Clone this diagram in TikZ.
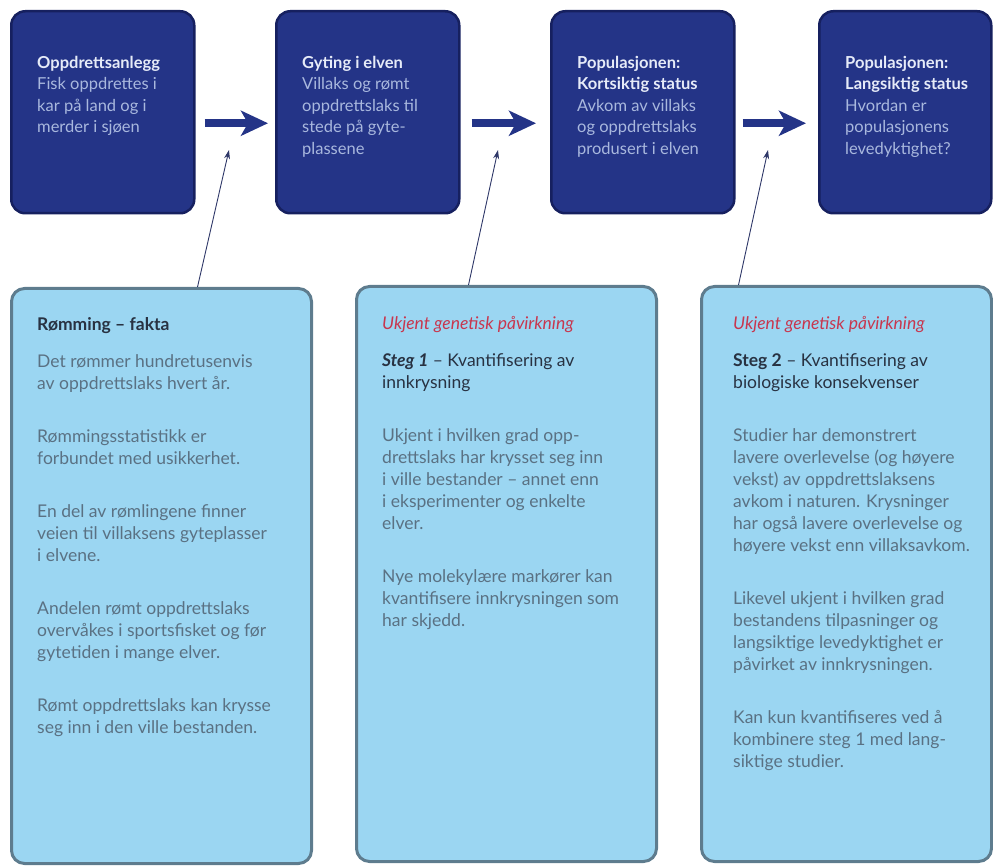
\documentclass[tikz,border=0pt]{standalone}
\usepackage{fontspec}
\setmainfont{Lato}
\usetikzlibrary{arrows.meta,positioning}
\definecolor{navybox}{HTML}{243487}
\definecolor{navyedge}{HTML}{16205F}
\definecolor{navytitle}{HTML}{E6EBF8}
\definecolor{navytext}{HTML}{A9B8DE}
\definecolor{skyfill}{HTML}{9BD6F2}
\definecolor{skyedge}{HTML}{5E7C8E}
\definecolor{skytitle}{HTML}{283242}
\definecolor{skytext}{HTML}{5A7183}
\definecolor{unkred}{HTML}{C8364E}
\definecolor{pointer}{HTML}{2E3768}
\begin{document}
\begin{tikzpicture}[x=1pt,y=1pt,
    topbox/.style={draw=navyedge,line width=2.5pt,fill=navybox,rounded corners=14pt,
      anchor=north west,inner sep=0pt,minimum height=202pt},
    botbox/.style={draw=skyedge,line width=3pt,fill=skyfill,rounded corners=13pt,
      anchor=north west,inner sep=0pt,minimum height=575pt},
    toptext/.style={anchor=north west,inner sep=0pt,align=left,text=navytext,
      font=\fontsize{16.5}{21.5}\selectfont},
    bottext/.style={anchor=north west,inner sep=0pt,align=left,text=skytext,
      font=\fontsize{17.5}{22}\selectfont},
    flowarrow/.style={draw=navybox,line width=8pt,
      -{Stealth[width=25pt,length=27pt,inset=7pt]}},
    pointarrow/.style={draw=pointer,line width=0.9pt,-{Stealth[width=6pt,length=9pt]}}]
  \useasboundingbox (0,0) rectangle (993,-866);

  \node[topbox,minimum width=183pt] (anlegg) at (10,-10) {};
  \node[topbox,minimum width=183pt] (gyting) at (275,-10) {};
  \node[topbox,minimum width=183pt] (kort) at (550,-10) {};
  \node[topbox,minimum width=172pt] (lang) at (818,-10) {};

  \node[toptext] (anleggtxt) at ([shift={(27,-46)}]anlegg.north west)
    {\textbf{\textcolor{navytitle}{Oppdrettsanlegg}}\\Fisk oppdrettes i\\kar på land og i\\merder i sjøen};
  \node[toptext] (gytingtxt) at ([shift={(27,-46)}]gyting.north west)
    {\textbf{\textcolor{navytitle}{Gyting i elven}}\\Villaks og rømt\\oppdrettslaks til\\stede på gyte-\\plassene};
  \node[toptext] (korttxt) at ([shift={(27,-46)}]kort.north west)
    {\textbf{\textcolor{navytitle}{Populasjonen:}}\\\textbf{\textcolor{navytitle}{Kortsiktig status}}\\Avkom av villaks\\og oppdrettslaks\\produsert i elven};
  \node[toptext] (langtxt) at ([shift={(27,-46)}]lang.north west)
    {\textbf{\textcolor{navytitle}{Populasjonen:}}\\\textbf{\textcolor{navytitle}{Langsiktig status}}\\Hvordan er\\populasjonens\\levedyktighet?};

  \draw[flowarrow,shorten <=9pt,shorten >=7pt] ([yshift=-11pt]anlegg.east) -- ([yshift=-11pt]gyting.west);
  \draw[flowarrow,shorten <=11pt,shorten >=14pt] ([yshift=-11pt]gyting.east) -- ([yshift=-11pt]kort.west);
  \draw[flowarrow,shorten <=7pt,shorten >=12pt] ([yshift=-11pt]kort.east) -- ([yshift=-11pt]lang.west);

  \node[botbox,minimum width=300pt] (fakta) at (10,-287) {};
  \node[botbox,minimum width=300pt] (steg1) at (355,-285) {};
  \node[botbox,minimum width=290pt] (steg2) at (700,-285) {};

  \coordinate (tip1) at (229,-150);
  \coordinate (tip2) at (498,-150);
  \coordinate (tip3) at (768,-150);
  \draw[pointarrow] ([xshift=36pt]fakta.north) -- (tip1);
  \draw[pointarrow] ([xshift=-38pt]steg1.north) -- (tip2);
  \draw[pointarrow] ([xshift=-108pt]steg2.north) -- (tip3);

  \node[bottext] (faktatxt) at ([shift={(27,-30)}]fakta.north west)
    {\textbf{\textcolor{skytitle}{Rømming – fakta}}\\[15pt]
     Det rømmer hundretusenvis\\av oppdrettslaks hvert år.\\[31pt]
     Rømmingsstatistikk er\\forbundet med usikkerhet.\\[31pt]
     En del av rømlingene finner\\veien til villaksens gyteplasser\\i elvene.\\[31pt]
     Andelen rømt oppdrettslaks\\overvåkes i sportsfisket og før\\gytetiden i mange elver.\\[31pt]
     Rømt oppdrettslaks kan krysse\\seg inn i den ville bestanden.};
  \node[bottext] (steg1txt) at ([shift={(27,-31)}]steg1.north west)
    {\textcolor{unkred}{\itshape Ukjent genetisk påvirkning}\\[15pt]
     \textcolor{skytitle}{\textbf{\textit{Steg 1}} – Kvantifisering av}\\\textcolor{skytitle}{innkrysning}\\[31pt]
     Ukjent i hvilken grad opp-\\drettslaks har krysset seg inn\\i ville bestander – annet enn\\i eksperimenter og enkelte\\elver.\\[31pt]
     Nye molekylære markører kan\\kvantifisere innkrysningen som\\har skjedd.};
  \node[bottext] (steg2txt) at ([shift={(33,-31)}]steg2.north west)
    {\textcolor{unkred}{\itshape Ukjent genetisk påvirkning}\\[15pt]
     \textcolor{skytitle}{\textbf{Steg 2} – Kvantifisering av}\\\textcolor{skytitle}{biologiske konsekvenser}\\[31pt]
     Studier har demonstrert\\lavere overlevelse (og høyere\\vekst) av oppdrettslaksens\\avkom i naturen. Krysninger\\har også lavere overlevelse og\\høyere vekst enn villaksavkom.\\[31pt]
     Likevel ukjent i hvilken grad\\bestandens tilpasninger og\\langsiktige levedyktighet er\\påvirket av innkrysningen.\\[31pt]
     Kan kun kvantifiseres ved å\\kombinere steg 1 med lang-\\siktige studier.};
\end{tikzpicture}
\end{document}
